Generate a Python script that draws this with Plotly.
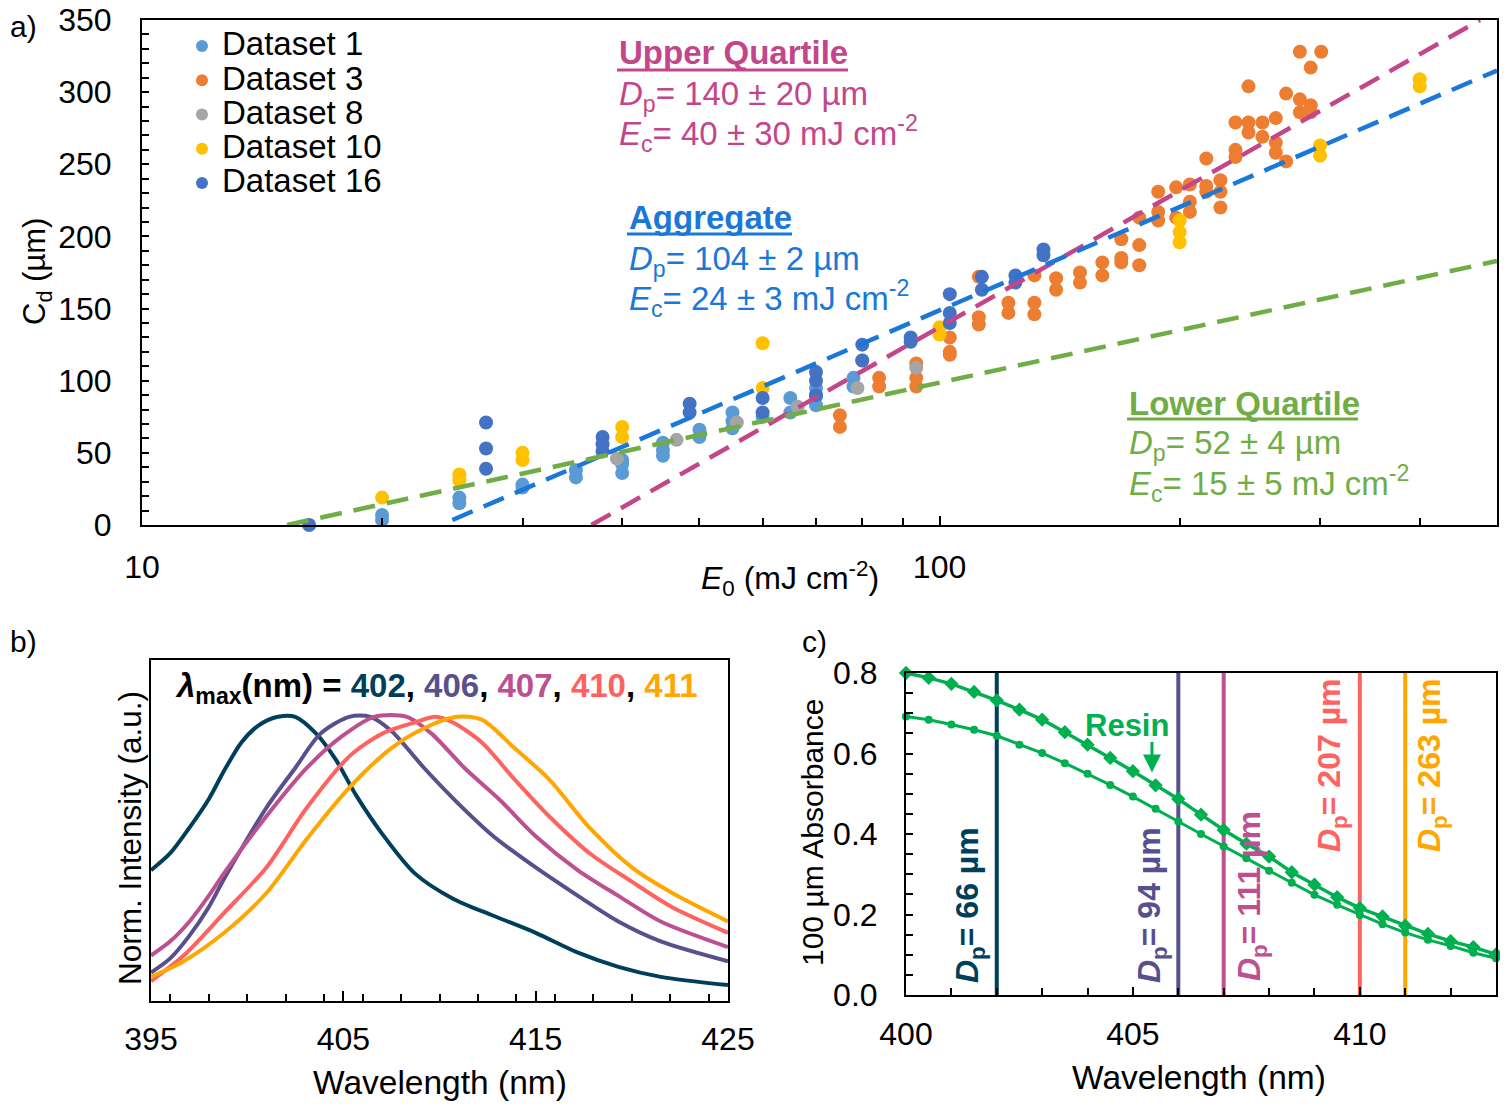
import math
import plotly.graph_objects as go

# reference canvas (coordinates below are read in this frame)
W, H = 1508, 1107
OFF = 8  # page body margin of the browser
FW, FH = W - OFF, H - OFF

# ---------------- Panel a data ----------------
ds1_E0 = [20, 20, 25, 25, 30, 30, 35, 35, 40, 40, 40, 45, 45, 45, 50, 50, 55, 55, 55, 60, 65, 65, 70, 70, 70, 78, 78]
ds1_Cd = [7, 3.5, 19, 15, 28, 26, 38, 33, 45, 42, 36, 57, 52, 48, 66, 61, 78, 72, 67, 75, 88, 78, 95, 89, 83, 102, 96]

ds3_E0 = [75, 75, 84, 84, 93.5, 93.5, 93.5, 103, 103, 103, 112, 112, 112, 122, 122, 131.5, 131.5, 131.5,
          140, 140, 150, 150, 160, 160, 169, 169, 169, 178, 178, 178, 188, 188, 188, 198, 198,
          206, 206, 206, 216, 216, 216, 225, 225, 225, 235, 235, 235, 244, 244, 244, 254, 254,
          264, 264, 264, 272, 272, 283, 283, 283, 292, 292, 292, 301]
ds3_Cd = [76, 68, 102, 96, 112, 102, 96, 130, 120, 118, 172, 144, 139, 154, 147, 173, 154, 146,
          171, 163, 175, 168, 182, 173, 198, 185, 182, 213, 194, 180, 231, 217, 211, 234, 213,
          236, 224, 217, 254, 235, 231, 239, 231, 220, 279, 260, 255, 304, 279, 272, 279, 269,
          282, 265, 258, 299, 252, 328, 295, 286, 317, 291, 286, 328]

ds8_E0 = [39.4, 46.8, 55.7, 66.4, 78.9, 93.5]
ds8_Cd = [46, 59, 71, 82, 95, 109]

ds10_E0 = [20, 25, 25, 30, 30, 40, 40, 60, 60, 80, 100, 100, 200, 200, 200, 300, 300, 400, 400]
ds10_Cd = [19, 35, 31, 50, 45, 68, 61, 126, 95, 114, 137, 132, 211, 203, 196, 263, 256, 309, 304]

ds16_E0 = [16.2, 27, 27, 27, 37.8, 37.8, 37.8, 48.6, 48.6, 60, 60, 70, 70, 70, 80, 80, 92, 92,
           103, 103, 103, 113, 113, 124.5, 124.5, 135, 135]
ds16_Cd = [0, 71, 53, 39, 61, 56, 51, 84, 78, 88, 78, 106, 100, 90, 125, 114, 130, 127,
           160, 147, 140, 172, 163, 173, 168, 191, 187]

# fit lines (end points; straight on log-x axis)
upper_E0 = [36.6, 476]
upper_Cd = [0, 350]
agg_E0 = [24.5, 500]
agg_Cd = [3.5, 315]
lower_E0 = [15.2, 500]
lower_Cd = [0, 183]

# ---------------- Panel b data ----------------
wl_402 = [395, 396.0, 397.0, 398.0, 398.8, 399.7, 400.6, 401.6, 402.5, 403.6, 404.6, 405.7, 407.0, 408.7, 410.7, 412.8, 415.0, 417.2, 419.3, 421.5, 425]
in_402 = [0.46, 0.52, 0.61, 0.71, 0.81, 0.91, 0.97, 1.0, 1.0, 0.94, 0.85, 0.72, 0.59, 0.45, 0.36, 0.30, 0.24, 0.17, 0.12, 0.085, 0.056]

wl_406 = [395, 396.0, 397.0, 398.0, 398.8, 401.0, 402.5, 403.8, 405.3, 406.4, 407.5, 409.2, 410.9, 412.8, 415.0, 417.2, 419.3, 421.5, 425]
in_406 = [0.10, 0.15, 0.23, 0.33, 0.43, 0.68, 0.82, 0.94, 1.0, 1.0, 0.95, 0.82, 0.70, 0.58, 0.47, 0.37, 0.28, 0.21, 0.14]

wl_407 = [395, 396.0, 397.0, 398.0, 398.8, 401.0, 403.1, 404.9, 406.6, 408.3, 409.6, 411.3, 413.1, 415.0, 417.2, 419.3, 421.5, 425]
in_407 = [0.16, 0.21, 0.28, 0.37, 0.45, 0.65, 0.82, 0.93, 1.0, 1.0, 0.94, 0.82, 0.71, 0.58, 0.46, 0.37, 0.28, 0.19]

wl_410 = [395, 396.7, 398.8, 401.0, 403.1, 405.3, 407.0, 408.7, 409.8, 410.7, 412.2, 413.9, 415.7, 417.8, 420.0, 422.1, 425]
in_410 = [0.07, 0.16, 0.31, 0.47, 0.68, 0.86, 0.94, 0.98, 1.0, 0.98, 0.91, 0.78, 0.65, 0.52, 0.42, 0.33, 0.24]

wl_411 = [395, 396.7, 398.8, 401.0, 403.1, 405.3, 407.5, 409.2, 410.9, 412.2, 413.9, 415.7, 417.8, 420.0, 422.1, 425]
in_411 = [0.085, 0.14, 0.24, 0.38, 0.57, 0.75, 0.89, 0.96, 1.0, 0.99, 0.89, 0.78, 0.61, 0.47, 0.38, 0.28]

# ---------------- Panel c data ----------------
abs_wl = [400, 400.5, 401, 401.5, 402, 402.5, 403, 403.5, 404, 404.5, 405, 405.5, 406, 406.5,
          407, 407.5, 408, 408.5, 409, 409.5, 410, 410.5, 411, 411.5, 412, 412.5, 413]
abs_resin = [0.80, 0.788, 0.773, 0.753, 0.732, 0.709, 0.684, 0.653, 0.622, 0.589, 0.556, 0.521, 0.487, 0.448,
             0.410, 0.376, 0.344, 0.305, 0.274, 0.243, 0.216, 0.195, 0.172, 0.152, 0.134, 0.119, 0.101]
abs_other = [0.692, 0.684, 0.672, 0.659, 0.644, 0.622, 0.601, 0.576, 0.550, 0.522, 0.493, 0.463, 0.431, 0.400,
             0.369, 0.340, 0.309, 0.279, 0.249, 0.224, 0.199, 0.176, 0.155, 0.137, 0.122, 0.105, 0.091]

led_wl = [402, 406, 407, 410, 411]
led_dp = [66, 94, 111, 207, 263]
led_colors = ["#003f5c", "#58508d", "#bc5090", "#ff6361", "#ffa600"]

REG = "Liberation Sans, Arial, sans-serif"


def px(x):
    return (x - OFF) / FW


def py(y):
    return 1 - (y - OFF) / FH


fig = go.Figure()

# ---- panel a scatter ----
ds_specs = [
    ("Dataset 1", ds1_E0, ds1_Cd, "#5b9bd5"),
    ("Dataset 3", ds3_E0, ds3_Cd, "#ed7d31"),
    ("Dataset 8", ds8_E0, ds8_Cd, "#a5a5a5"),
    ("Dataset 10", ds10_E0, ds10_Cd, "#ffc000"),
    ("Dataset 16", ds16_E0, ds16_Cd, "#4472c4"),
]
for name, xs, ys, col in ds_specs:
    fig.add_trace(go.Scatter(x=xs, y=ys, mode="markers",
                             name=f"<span style='font-size:33px'>{name}</span>",
                             marker=dict(color=col, size=14, line=dict(width=0)),
                             cliponaxis=False, xaxis="x", yaxis="y"))

for xs, ys, col in [(upper_E0, upper_Cd, "#c3468a"), (agg_E0, agg_Cd, "#1a78d8"),
                    (lower_E0, lower_Cd, "#70ad47")]:
    fig.add_trace(go.Scatter(x=xs, y=ys, mode="lines", showlegend=False,
                             line=dict(color=col, width=4.5, dash="22px,12px"),
                             xaxis="x", yaxis="y"))

# ---- panel b spectra ----
for xs, ys, col in [(wl_402, in_402, led_colors[0]), (wl_406, in_406, led_colors[1]),
                    (wl_407, in_407, led_colors[2]), (wl_410, in_410, led_colors[3]),
                    (wl_411, in_411, led_colors[4])]:
    fig.add_trace(go.Scatter(x=xs, y=ys, mode="lines", showlegend=False,
                             line=dict(color=col, width=4, shape="spline", smoothing=0.8),
                             xaxis="x2", yaxis="y2"))

# ---- panel c ----
for wl, col in zip(led_wl, led_colors):
    fig.add_trace(go.Scatter(x=[wl, wl], y=[0, 0.8], mode="lines", showlegend=False,
                             line=dict(color=col, width=4), xaxis="x3", yaxis="y3"))

fig.add_trace(go.Scatter(x=abs_wl, y=abs_other, mode="lines+markers", showlegend=False,
                         line=dict(color="#00b050", width=3),
                         marker=dict(symbol="circle", size=8, color="#00b050"),
                         cliponaxis=False, xaxis="x3", yaxis="y3"))
fig.add_trace(go.Scatter(x=abs_wl, y=abs_resin, mode="lines+markers", showlegend=False,
                         line=dict(color="#00b050", width=3.5),
                         marker=dict(symbol="diamond", size=11, color="#00b050"),
                         cliponaxis=False, xaxis="x3", yaxis="y3"))

axis_common = dict(showline=True, linecolor="black", linewidth=2, mirror=True, automargin=False,
                   showgrid=False, zeroline=False, ticks="inside", tickcolor="black",
                   ticklabeloverflow="allow")

fig.update_layout(
    width=FW, height=FH,
    margin=dict(l=0, r=0, t=0, b=0, pad=0, autoexpand=False),
    paper_bgcolor="white", plot_bgcolor="white",
    font=dict(family=REG, color="black", size=28),
    showlegend=True,
    legend=dict(x=px(182), y=py(24), xanchor="left", yanchor="top",
                font=dict(family=REG, size=24, color="black"), itemsizing="constant",
                bgcolor="rgba(0,0,0,0)", itemwidth=30, tracegroupgap=0),
    xaxis=dict(**axis_common, domain=[px(142), px(1497)], anchor="y", type="log",
               range=[1, math.log10(500)], tickmode="array", tickvals=[10, 100],
               ticktext=["10", "100"], ticklen=9, tickwidth=2,
               tickfont=dict(family=REG, size=32), ticklabelstandoff=13,
               minor=dict(ticks="inside", tickmode="array",
                          tickvals=[20, 30, 40, 50, 60, 70, 80, 90, 200, 300, 400],
                          ticklen=7, tickwidth=1.5, tickcolor="black")),
    yaxis=dict(**axis_common, domain=[py(525), py(20)], anchor="x", range=[0, 350],
               dtick=50, ticklen=7, tickwidth=1.5, tickfont=dict(family=REG, size=32),
               ticklabelstandoff=22,
               minor=dict(ticks="inside", dtick=10, ticklen=7, tickwidth=1.5, tickcolor="black")),
    xaxis2=dict(**axis_common, domain=[px(151), px(728)], anchor="y2", range=[395, 425],
                dtick=10, tick0=395, ticklen=10, tickwidth=1.5,
                tickfont=dict(family=REG, size=32), ticklabelstandoff=9,
                minor=dict(ticks="inside", dtick=2, ticklen=7, tickwidth=1.5, tickcolor="black")),
    yaxis2=dict(showline=True, linecolor="black", linewidth=2, mirror=True, showgrid=False,
                automargin=False, zeroline=False, domain=[py(1001), py(660)], anchor="x2",
                range=[0, 1.2], showticklabels=False, ticks=""),
    xaxis3=dict(**axis_common, domain=[px(906), px(1496)], anchor="y3", range=[400, 413],
                dtick=5, tick0=400, ticklen=8, tickwidth=1.5,
                tickfont=dict(family=REG, size=32), ticklabelstandoff=10,
                minor=dict(ticks="inside", dtick=1, ticklen=7, tickwidth=1.5, tickcolor="black")),
    yaxis3=dict(**axis_common, domain=[py(995), py(673)], anchor="x3", range=[0, 0.8],
                dtick=0.2, tickformat=".1f", ticklen=7, tickwidth=1.5,
                tickfont=dict(family=REG, size=32), ticklabelstandoff=20,
                minor=dict(ticks="inside", dtick=0.05, ticklen=7, tickwidth=1.5, tickcolor="black")),
)

ann = []


def add_text(text, x, y, size=33, color="black", xanchor="left", yanchor="middle", angle=0):
    ann.append(dict(text=text, x=px(x), y=py(y), xref="paper", yref="paper", showarrow=False,
                    xanchor=xanchor, yanchor=yanchor, textangle=angle,
                    font=dict(size=size, color=color, family=REG)))


# panel labels
add_text("a)", 8, 27, size=30)
add_text("b)", 8, 641, size=30)
add_text("c)", 800, 641, size=30)

# panel a axis titles
add_text("C<sub>d</sub> (µm)", 37, 272, size=31, xanchor="center", angle=-90)
add_text("<i>E</i><sub>0</sub> (mJ cm<sup>-2</sup>)", 790, 578, size=32, xanchor="center")

# panel a fit annotations
UQ = "#c3468a"
AG = "#1a78d8"
LQ = "#70ad47"
add_text("<b>Upper Quartile</b>", 617, 53, color=UQ)
add_text("<i>D</i><sub>p</sub>= 140 ± 20 µm", 617, 96, color=UQ)
add_text("<i>E</i><sub>c</sub>= 40 ± 30 mJ cm<sup>-2</sup>", 617, 133, color=UQ)
add_text("<b>Aggregate</b>", 627, 218, color=AG)
add_text("<i>D</i><sub>p</sub>= 104 ± 2 µm", 627, 261, color=AG)
add_text("<i>E</i><sub>c</sub>= 24 ± 3 mJ cm<sup>-2</sup>", 627, 298, color=AG)
add_text("<b>Lower Quartile</b>", 1127, 403, color=LQ)
add_text("<i>D</i><sub>p</sub>= 52 ± 4 µm", 1127, 445, color=LQ)
add_text("<i>E</i><sub>c</sub>= 15 ± 5 mJ cm<sup>-2</sup>", 1127, 483, color=LQ)

# panel b
add_text("Norm. Intensity (a.u.)", 130, 838, size=31.5, xanchor="center", angle=-90)
add_text("Wavelength (nm)", 440, 1082, size=33.5, xanchor="center")
lam = ("<b><i>λ</i><sub>max</sub>(nm) = "
       + ", ".join(f"<span style='color:{c}'>{w}</span>" for c, w in zip(led_colors, led_wl))
       + "</b>")
add_text(lam, 437, 688, size=33, xanchor="center")

# panel c
add_text("100 µm Absorbance", 812, 833, size=30, xanchor="center", angle=-90)
add_text("Wavelength (nm)", 1199, 1077, size=33.5, xanchor="center")
add_text("<b>Resin</b>", 1127, 725, size=31, color="#00b050", xanchor="center")
label_pos = [(969, 905), (1151, 905), (1251, 896), (1331, 765), (1431, 765)]
for (lx, ly), dp, col in zip(label_pos, led_dp, led_colors):
    add_text(f"<b><i>D</i><sub>p</sub>= {dp} µm</b>", lx, ly, size=32, color=col,
             xanchor="center", angle=-90)

ann.append(dict(x=405.42, y=0.553, xref="x3", yref="y3", ax=0, ay=-32, axref="pixel", ayref="pixel",
                text="", showarrow=True, arrowhead=2, arrowsize=1.2, arrowwidth=3, arrowcolor="#00b050"))

fig.update_layout(annotations=ann)

# underlines for the fit headers
shapes = []
for x0, x1, y, col in [(617, 848, 70, UQ), (627, 792, 234, AG), (1127, 1358, 419, LQ)]:
    shapes.append(dict(type="line", xref="paper", yref="paper", x0=px(x0), x1=px(x1),
                       y0=py(y), y1=py(y), line=dict(color=col, width=3)))
fig.update_layout(shapes=shapes)

fig.write_html("out.html")
